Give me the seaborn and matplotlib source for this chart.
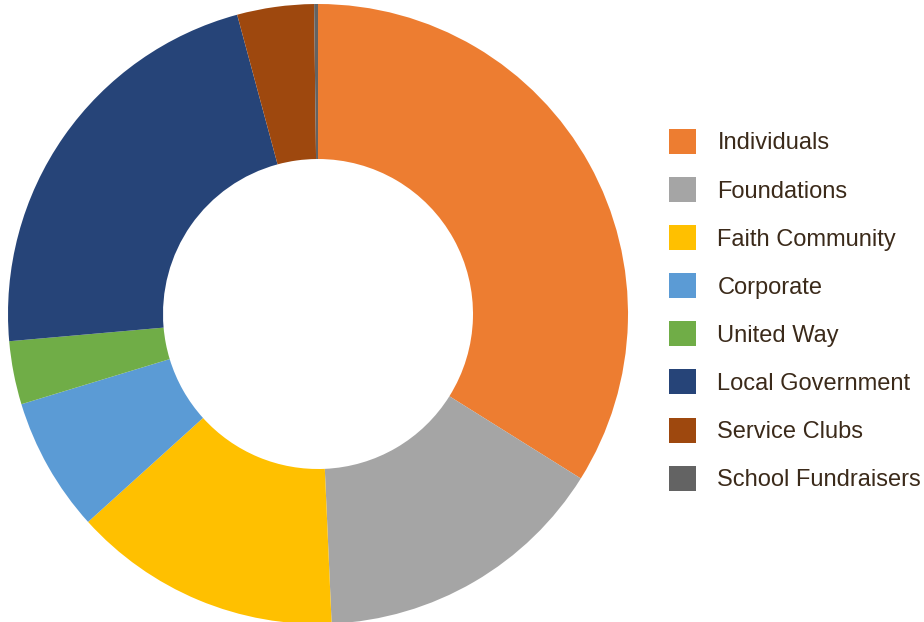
import matplotlib
matplotlib.use("Agg")
import matplotlib.pyplot as plt
import seaborn as sns

# funding sources (share of total, %)
sources = ["Individuals", "Foundations", "Faith Community", "Corporate",
           "United Way", "Local Government", "Service Clubs", "School Fundraisers"]
shares = [33.9, 15.4, 14.0, 7.0, 3.3, 22.2, 4.0, 0.2]
hex_colors = ["#ED7D31", "#A5A5A5", "#FFC000", "#5B9BD5",
              "#70AD47", "#264478", "#9E480E", "#636363"]

sns.set_theme(style="white")
plt.rcParams['font.family'] = ['Liberation Sans', 'DejaVu Sans']
palette = sns.color_palette(hex_colors)

fig = plt.figure(figsize=(9.24, 6.22), dpi=100)
ax = fig.add_axes([8/924, -2/622, 620/924, 620/622])
wedges, _ = ax.pie(shares, colors=palette, startangle=90, counterclock=False,
                   radius=1.0, wedgeprops=dict(width=0.5, edgecolor='none'))
ax.set_xlim(-1, 1)
ax.set_ylim(-1, 1)
ax.set_aspect('equal')
ax.axis('off')

leg = fig.legend(wedges, sources, loc='upper left', bbox_to_anchor=(669/924, 1 - 129/622),
                 frameon=False, fontsize=17, handlelength=1.15, handleheight=1.25,
                 handletextpad=0.9, labelspacing=0.96, borderaxespad=0, borderpad=0)
for t in leg.get_texts():
    t.set_color('#3B2A1A')

fig.savefig("out.png", dpi=100)
